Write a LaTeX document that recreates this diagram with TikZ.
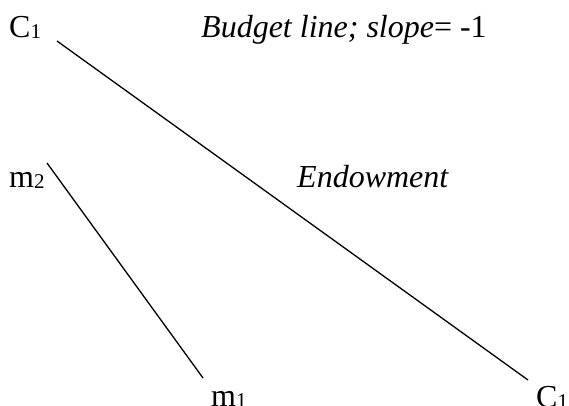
\documentclass[tikz,border=0pt]{standalone}
\usepackage{fontspec}
\setmainfont{Liberation Serif}
\newcommand{\sub}[1]{{\fontsize{21}{21}\selectfont\raisebox{-1pt}{#1}}}
\begin{document}
\begin{tikzpicture}[x=1pt,y=-1pt,
  lbl/.style={anchor=base west,inner sep=0pt,font=\fontsize{32}{38}\selectfont},
  ln/.style={line width=1.3pt,black}]
\useasboundingbox (0,0) rectangle (569,406);
\node[lbl] (c1top) at (9,38) {C\sub{1}};
\node[lbl] (budget) at (201,38) {\textit{Budget line; slope}= -1};
\node[lbl] (m2) at (9,187) {m\sub{2}};
\node[lbl] (endow) at (297,187) {\textit{Endowment}};
\node[lbl] (m1) at (211,406) {m\sub{1}};
\node[lbl] (c1bot) at (536,407) {C\sub{1}};
\coordinate (bA) at (57,41);
\coordinate (bB) at (528,380);
\coordinate (sA) at (47,163);
\coordinate (sB) at (203,378);
\draw[ln] (bA) -- (bB);
\draw[ln] (sA) -- (sB);
\end{tikzpicture}
\end{document}
